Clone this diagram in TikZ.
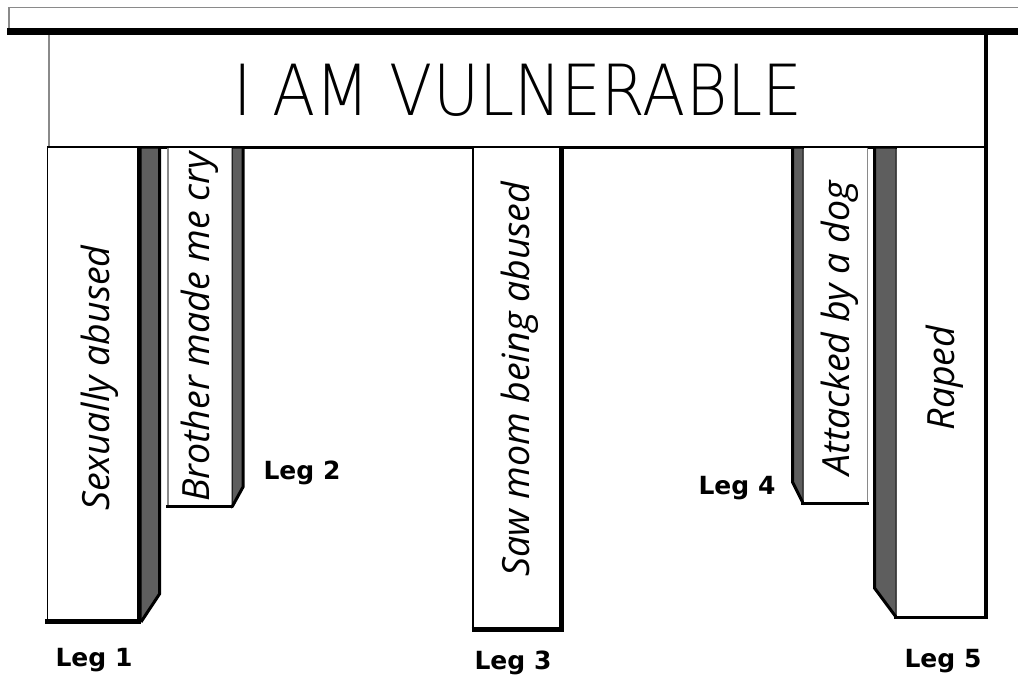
\documentclass[tikz,border=0pt]{standalone}
\usepackage{fontspec}
\newfontfamily\titlefont{DejaVu Sans ExtraLight}
\newfontfamily\handfont{Open Sans}
\newfontfamily\legfont{DejaVu Sans}
\definecolor{panel}{HTML}{5E5E5E}
\definecolor{edge}{HTML}{8A8A8A}
\begin{document}
\begin{tikzpicture}[x=1pt,y=-1pt,
  hand/.style={font=\handfont\itshape\fontsize{37.5}{44}\selectfont, rotate=90, inner sep=0pt},
  leglabel/.style={font=\legfont\bfseries\fontsize{25}{30}\selectfont, anchor=base, inner sep=0pt},
  sidepanel/.style={fill=panel, draw=black, line width=1pt},
  blackedge/.style={draw=black, line width=3pt},
  greyedge/.style={draw=edge, line width=1.5pt}]
\useasboundingbox (0,0) rectangle (1018,677);
\fill[white] (0,0) rectangle (1018,677);
% table top
\draw[greyedge, line width=1.6pt] (9,28) -- (9,7.5) -- (1030,7.5);
\fill[black] (7,28) rectangle (1018,35.5);
% apron
\fill[white] (48,35) rectangle (985,147);
\draw[greyedge, line width=2pt] (48.5,35) -- (48.5,147);
\draw[blackedge] (47,147) -- (987,147);
\node[font=\titlefont\fontsize{70.5}{80}\selectfont, inner sep=0pt] (title) at (518,90) {\scalebox{0.895}[1]{I AM VULNERABLE}};
% leg 1
\fill[white] (47,148) rectangle (138,621);
\draw[line width=1.5pt] (47.5,148) -- (47.5,621);
\filldraw[sidepanel] (141,148) -- (159,148) -- (159,594) -- (141,621) -- cycle;
\draw[line width=3pt] (159.5,148) -- (159.5,594) -- (141,622);
\draw[line width=4pt] (139,148) -- (139,623);
\draw[line width=4.5pt] (45,621.5) -- (141,621.5);
% leg 2
\fill[white] (167,148) rectangle (232,507);
\draw[greyedge, line width=2pt] (168,148) -- (168,507);
\filldraw[sidepanel] (232,148) -- (243,148) -- (243,487) -- (232,507) -- cycle;
\draw[blackedge] (243,148) -- (243,487) -- (232,507);
\draw[blackedge] (166,506.5) -- (233,506.5);
% leg 3
\fill[white] (472,148) rectangle (563,629);
\draw[line width=2pt] (472.5,148) -- (472.5,630);
\draw[line width=4.5pt] (561.5,148) -- (561.5,632);
\draw[line width=4.5pt] (471.5,629.5) -- (563.5,629.5);
% leg 4
\filldraw[sidepanel] (792,148) -- (803,148) -- (803,503) -- (792,482) -- cycle;
\draw[blackedge] (792.5,148) -- (792.5,482) -- (803,503);
\fill[white] (804,148) rectangle (868,503);
\draw[greyedge] (867.5,148) -- (867.5,503);
\draw[blackedge] (801,503.5) -- (868.5,503.5);
% leg 5
\filldraw[sidepanel] (874,148) -- (896,148) -- (896,617) -- (874,588) -- cycle;
\draw[blackedge] (874.5,148) -- (874.5,588) -- (896,617);
\fill[white] (897,148) rectangle (984,617);
\draw[blackedge] (894,617) -- (987,617);
\draw[line width=4pt] (985.5,35) -- (985.5,619);
% leg texts
\node[hand] (t1) at (100,378) {Sexually abused};
\node[hand] (t2) at (200,327) {Brother made me cry};
\node[hand] (t3) at (520,379) {Saw mom being abused};
\node[hand] (t4) at (840,328) {Attacked by a dog};
\node[hand] (t5) at (945,378) {Raped};
% leg labels
\node[leglabel] (l1) at (94,666) {Leg 1};
\node[leglabel] (l2) at (302,479) {Leg 2};
\node[leglabel] (l3) at (513,669) {Leg 3};
\node[leglabel] (l4) at (737,494) {Leg 4};
\node[leglabel] (l5) at (943,667) {Leg 5};
\end{tikzpicture}
\end{document}
